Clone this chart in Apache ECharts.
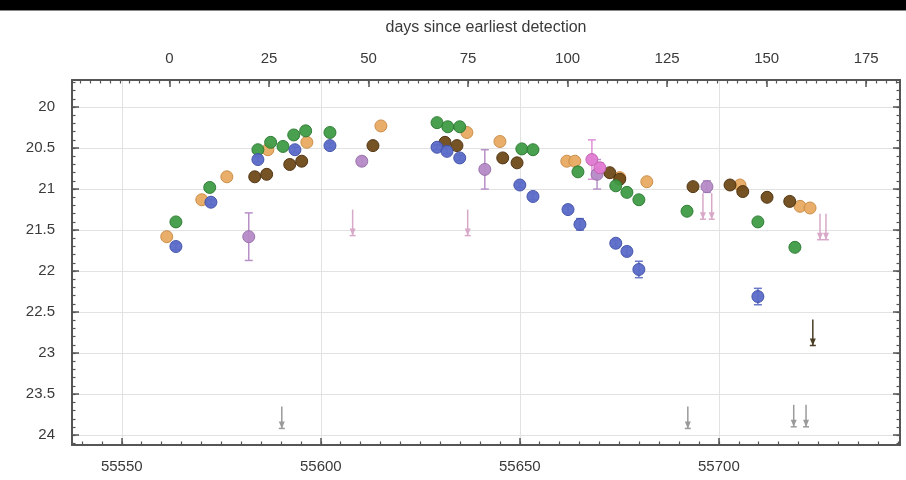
<!DOCTYPE html>
<html>
<head>
<meta charset="utf-8">
<script src="https://cdn.jsdelivr.net/npm/echarts@6/dist/echarts.min.js"></script>
<style>
html,body{margin:0;padding:0;background:#fff;}
#chart{width:906px;height:480px;}
</style>
</head>
<body>
<div id="chart"></div>
<script>
// ---- data (MJD, magnitude) ----
const mjdBlue = [55563.6,55572.4,55584.2,55593.5,55602.3,55629.2,55631.7,55634.9,55650.0,55653.3,55662.1,55665.1,55674.1,55676.9,55679.9,55709.8];
const magBlue = [21.70,21.16,20.64,20.52,20.47,20.49,20.54,20.62,20.95,21.09,21.25,21.43,21.66,21.76,21.98,22.31];
const errBlue = [0.04,0.03,0.03,0.03,0.03,0.03,0.03,0.03,0.03,0.04,0.04,0.07,0.04,0.05,0.10,0.10];

const mjdGreen = [55563.6,55572.1,55584.2,55587.4,55590.5,55593.2,55596.2,55602.3,55629.2,55631.9,55634.9,55650.5,55653.3,55664.6,55674.1,55676.9,55679.9,55692.0,55709.8,55719.1];
const magGreen = [21.40,20.98,20.52,20.43,20.48,20.34,20.29,20.31,20.19,20.24,20.24,20.51,20.52,20.79,20.96,21.04,21.13,21.27,21.40,21.71];

const mjdTan = [55561.3,55570.1,55576.4,55586.7,55596.5,55615.1,55636.7,55645.0,55661.8,55663.8,55675.1,55681.9,55705.3,55720.4,55722.9];
const magTan = [21.58,21.13,20.85,20.52,20.43,20.23,20.31,20.42,20.66,20.66,20.86,20.91,20.95,21.21,21.23];

const mjdBrown = [55583.4,55586.4,55592.2,55595.2,55613.1,55631.2,55634.2,55645.7,55649.3,55672.6,55675.1,55693.5,55702.8,55706.0,55712.1,55717.8];
const magBrown = [20.85,20.82,20.70,20.66,20.47,20.43,20.47,20.62,20.68,20.80,20.88,20.97,20.95,21.03,21.10,21.15];

const mjdViolet = [55581.9,55610.3,55641.2,55669.4,55697.0];
const magViolet = [21.58,20.66,20.76,20.82,20.97];
const errViolet = [0.29,0.05,0.24,0.18,0.07];

const mjdMagenta = [55668.1,55670.1];
const magMagenta = [20.64,20.74];
const errMagenta = [0.24,0.06];

// upper limits (start of arrow)
const mjdLimGray = [55590.2,55692.2,55718.8,55721.9];
const magLimGray = [23.65,23.65,23.63,23.63];
const mjdLimPink = [55608.0,55636.9,55696.0,55698.2,55725.4,55726.9];
const magLimPink = [21.25,21.25,21.05,21.05,21.30,21.30];
const mjdLimDark = [55723.6];
const magLimDark = [22.59];

// axes
const mjdTicks = [55550,55600,55650,55700];
const dayTicks = [0,25,50,75,100,125,150,175];
const magTicks = [20,20.5,21,21.5,22,22.5,23,23.5,24];
const dayOffset = 55562;

function zip(a,b,c){return a.map((v,i)=> c ? [v,b[i],c[i]] : [v,b[i]]);}
function range(a,b,s){const r=[];for(let v=a; v<=b+1e-9; v+=s) r.push(Math.round(v*1000)/1000);return r;}

const xmin = 55537.5, xmax = 55745.5;
const ymin = 19.67, ymax = 24.12;
const frame = {show:true,onZero:false,lineStyle:{color:'#555',width:2}};
const font = 'Liberation Sans, Arial, sans-serif';
const lblStyle = {color:'#3a3a3a',fontSize:15,fontFamily:font};

function errSeries(data,color){
  return {type:'custom',xAxisIndex:0,yAxisIndex:0,data:data,z:2,silent:true,
    renderItem:function(p,api){
      const x=api.value(0),y=api.value(1),e=api.value(2);
      const a=api.coord([x,y-e]), b=api.coord([x,y+e]);
      const st={stroke:color,lineWidth:1.5};
      return {type:'group',children:[
        {type:'line',shape:{x1:a[0],y1:a[1],x2:b[0],y2:b[1]},style:st},
        {type:'line',shape:{x1:a[0]-4,y1:a[1],x2:a[0]+4,y2:a[1]},style:st},
        {type:'line',shape:{x1:b[0]-4,y1:b[1],x2:b[0]+4,y2:b[1]},style:st}
      ]};
    }};
}
function limSeries(data,color,len){
  return {type:'custom',xAxisIndex:0,yAxisIndex:0,data:data,z:2,silent:true,
    renderItem:function(p,api){
      const c=api.coord([api.value(0),api.value(1)]);
      const st={stroke:color,lineWidth:1.5};
      return {type:'group',children:[
        {type:'line',shape:{x1:c[0],y1:c[1],x2:c[0],y2:c[1]+len},style:st},
        {type:'polygon',shape:{points:[[c[0]-3,c[1]+len-7],[c[0]+3,c[1]+len-7],[c[0],c[1]+len]]},style:{fill:color}},
        {type:'line',shape:{x1:c[0]-3,y1:c[1]+len,x2:c[0]+3,y2:c[1]+len},style:st}
      ]};
    }};
}
function pts(data,color,border){
  return {type:'scatter',xAxisIndex:0,yAxisIndex:0,data:data,symbol:'circle',symbolSize:12,z:3,
    itemStyle:{color:color,borderColor:border,borderWidth:1,opacity:0.95}};
}

const chart = echarts.init(document.getElementById('chart'),null,{renderer:'canvas'});
chart.setOption({
  animation:false,
  backgroundColor:'#fff',
  graphic:[{type:'rect',left:0,top:0,shape:{width:906,height:10},style:{fill:'#000'},z:100},
           {type:'rect',left:0,top:10,shape:{width:906,height:1},style:{fill:'#888'},z:100}],
  grid:{left:72,right:6,top:80,bottom:35,outerBoundsMode:'none'},
  xAxis:[
    {type:'value',position:'bottom',min:xmin,max:xmax,axisLine:frame,
     axisTick:{show:true,inside:true,length:7,customValues:mjdTicks,lineStyle:{color:'#555',width:1.5}},
     axisLabel:{customValues:mjdTicks,margin:14,formatter:v=>String(v),...lblStyle},
     splitLine:{show:true,lineStyle:{color:'#e2e2e2',width:1}}},
    {type:'value',position:'bottom',min:xmin,max:xmax,axisLine:{show:false,onZero:false},
     axisTick:{show:true,inside:true,length:3.5,customValues:range(55540,55745,5),lineStyle:{color:'#555',width:1.2}},
     axisLabel:{show:false},splitLine:{show:false}},
    {type:'value',position:'top',min:xmin-dayOffset,max:xmax-dayOffset,axisLine:frame,
     name:'days since earliest detection',nameLocation:'middle',nameGap:44,
     nameTextStyle:{color:'#3a3a3a',fontSize:16,fontFamily:font},
     axisTick:{show:true,inside:true,length:7,customValues:dayTicks,lineStyle:{color:'#555',width:1.5}},
     axisLabel:{customValues:dayTicks,margin:14,formatter:v=>String(v),...lblStyle},
     splitLine:{show:false}},
    {type:'value',position:'top',min:xmin-dayOffset,max:xmax-dayOffset,axisLine:{show:false,onZero:false},
     axisTick:{show:true,inside:true,length:3.5,customValues:range(-22.5,182.5,2.5),lineStyle:{color:'#555',width:1.2}},
     axisLabel:{show:false},splitLine:{show:false}}
  ],
  yAxis:[
    {type:'value',position:'left',inverse:true,min:ymin,max:ymax,axisLine:frame,
     axisTick:{show:true,inside:true,length:7,customValues:magTicks,lineStyle:{color:'#555',width:1.5}},
     axisLabel:{customValues:magTicks,margin:17,formatter:v=>String(v),...lblStyle},
     splitLine:{show:true,lineStyle:{color:'#e2e2e2',width:1}}},
    {type:'value',position:'left',inverse:true,min:ymin,max:ymax,axisLine:{show:false,onZero:false},
     axisTick:{show:true,inside:true,length:3.5,customValues:range(19.7,24.1,0.1),lineStyle:{color:'#555',width:1.2}},
     axisLabel:{show:false},splitLine:{show:false}},
    {type:'value',position:'right',inverse:true,min:ymin,max:ymax,axisLine:frame,
     axisTick:{show:true,inside:true,length:7,customValues:magTicks,lineStyle:{color:'#555',width:1.5}},
     axisLabel:{show:false},splitLine:{show:false}},
    {type:'value',position:'right',inverse:true,min:ymin,max:ymax,axisLine:{show:false,onZero:false},
     axisTick:{show:true,inside:true,length:3.5,customValues:range(19.7,24.1,0.1),lineStyle:{color:'#555',width:1.2}},
     axisLabel:{show:false},splitLine:{show:false}}
  ],
  series:[
    errSeries(zip(mjdBlue,magBlue,errBlue),'#6a78c8'),
    errSeries(zip(mjdViolet,magViolet,errViolet),'#b890c8'),
    errSeries(zip(mjdMagenta,magMagenta,errMagenta),'#e090d8'),
    limSeries(zip(mjdLimGray,magLimGray),'#9a9a9a',22),
    limSeries(zip(mjdLimPink,magLimPink),'#d8a8c8',26),
    limSeries(zip(mjdLimDark,magLimDark),'#4a3d25',26),
    pts(zip(mjdTan,magTan),'#e8ab62','#c88a45'),
    pts(zip(mjdBrown,magBrown),'#6e4a18','#4e3210'),
    pts(zip(mjdGreen,magGreen),'#3f9b46','#2c7a32'),
    pts(zip(mjdBlue,magBlue),'#5b6bc8','#4050a8'),
    pts(zip(mjdViolet,magViolet),'#b58ac6','#9870aa'),
    pts(zip(mjdMagenta,magMagenta),'#e07ad2','#c060b0')
  ]
});
</script>
</body>
</html>
